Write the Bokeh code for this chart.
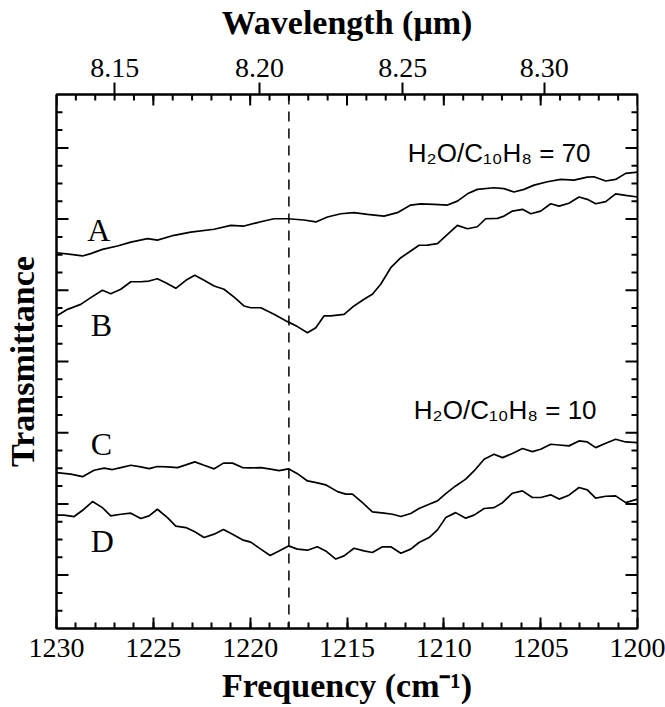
import math
from bokeh.plotting import figure
from bokeh.models import Range1d, LinearAxis, FixedTicker, CustomJSTickFormatter, Span
from bokeh.core.properties import value
from bokeh.embed import file_html
from bokeh.resources import INLINE

# ---------------- data (frequency in cm^-1, transmittance in arbitrary units) -------------
freq_A = [1230.0, 1229.26, 1228.66, 1228.23, 1227.63, 1226.85, 1226.16, 1225.30, 1224.79, 1223.93,
          1223.07, 1221.86, 1221.00, 1220.32, 1219.45, 1218.77, 1218.07, 1217.22, 1216.61, 1216.01,
          1215.32, 1214.64, 1213.94, 1213.09, 1212.40, 1211.71, 1211.19, 1210.51, 1209.81, 1209.30,
          1208.78, 1208.27, 1207.41, 1206.89, 1206.38, 1205.86, 1205.34, 1204.65, 1203.97, 1203.28,
          1202.59, 1202.25, 1201.64, 1201.13, 1200.61, 1200.0]
trans_A = [21.11, 21.02, 20.93, 21.06, 21.30, 21.49, 21.71, 21.90, 21.82, 22.09,
           22.27, 22.43, 22.65, 22.61, 22.85, 23.02, 23.02, 22.95, 22.84, 23.12,
           23.30, 23.36, 23.27, 23.17, 23.36, 23.79, 23.86, 23.83, 23.79, 24.01,
           24.42, 24.67, 24.76, 24.71, 24.52, 24.67, 24.91, 25.10, 25.23, 25.19,
           25.36, 25.38, 25.14, 25.23, 25.57, 25.64]

freq_B = [1230.0, 1229.43, 1228.75, 1228.23, 1227.63, 1227.20, 1226.68, 1226.16, 1225.65, 1225.22,
          1224.79, 1224.36, 1223.84, 1223.32, 1222.86, 1222.38, 1221.86, 1221.35, 1220.83, 1220.32,
          1219.97, 1219.45, 1218.77, 1218.07, 1217.56, 1217.04, 1216.61, 1216.19, 1215.84, 1215.15,
          1214.64, 1214.12, 1213.69, 1213.26, 1212.74, 1212.22, 1211.71, 1211.28, 1210.85, 1210.33,
          1209.81, 1209.30, 1208.78, 1208.27, 1207.84, 1207.23, 1206.89, 1206.46, 1205.94, 1205.51,
          1205.00, 1204.48, 1204.05, 1203.54, 1203.02, 1202.59, 1202.16, 1201.64, 1201.13, 1200.61,
          1200.0]
trans_B = [17.56, 17.93, 18.21, 18.59, 19.00, 18.81, 19.06, 19.48, 19.48, 19.52,
           19.65, 19.43, 19.11, 19.56, 19.84, 19.56, 19.24, 19.06, 18.62, 18.12,
           18.02, 18.02, 17.65, 17.24, 16.96, 16.62, 16.90, 17.56, 17.56, 17.65,
           18.12, 18.50, 18.78, 19.34, 20.27, 20.83, 21.21, 21.53, 21.54, 21.62,
           22.14, 22.65, 22.46, 22.57, 23.02, 23.04, 23.17, 23.45, 23.55, 23.30,
           23.45, 23.86, 23.73, 23.89, 24.24, 24.11, 23.86, 23.98, 24.42, 24.33,
           24.24]

freq_C = [1230.0, 1229.26, 1228.66, 1228.06, 1227.54, 1227.11, 1226.68, 1226.16, 1225.65, 1225.22,
          1224.79, 1224.27, 1223.75, 1223.32, 1222.86, 1222.38, 1221.86, 1221.38, 1220.91, 1220.40,
          1219.97, 1219.45, 1218.94, 1218.51, 1218.02, 1217.56, 1217.04, 1216.53, 1216.10, 1215.49,
          1215.06, 1214.72, 1214.20, 1213.69, 1213.09, 1212.65, 1212.22, 1211.71, 1211.28, 1210.76,
          1210.33, 1209.90, 1209.39, 1208.87, 1208.44, 1207.92, 1207.41, 1206.97, 1206.46, 1205.94,
          1205.43, 1205.00, 1204.48, 1204.05, 1203.54, 1203.02, 1202.59, 1202.16, 1201.64, 1201.13,
          1200.61, 1200.0]
trans_C = [8.76, 8.67, 8.53, 8.89, 9.01, 8.93, 9.04, 9.17, 9.08, 8.98,
           9.10, 9.08, 9.04, 9.19, 9.36, 9.17, 8.97, 9.29, 9.29, 9.04,
           9.02, 9.04, 8.95, 8.87, 8.97, 8.70, 8.29, 8.18, 8.07, 7.69,
           7.55, 7.55, 7.07, 6.55, 6.48, 6.42, 6.29, 6.46, 6.74, 6.98,
           7.17, 7.58, 8.01, 8.39, 8.85, 9.51, 9.79, 9.60, 9.83, 10.11,
           9.94, 10.07, 10.35, 10.31, 10.26, 10.54, 10.48, 10.16, 10.41, 10.63,
           10.48, 10.44]

freq_D = [1230.0, 1229.61, 1229.09, 1228.58, 1228.14, 1227.63, 1227.20, 1226.68, 1226.16, 1225.65,
          1225.22, 1224.79, 1224.27, 1223.84, 1223.32, 1222.86, 1222.38, 1221.86, 1221.38, 1220.91,
          1220.40, 1219.97, 1219.45, 1218.97, 1218.51, 1218.02, 1217.56, 1217.04, 1216.53, 1216.10,
          1215.58, 1215.15, 1214.64, 1214.12, 1213.69, 1213.17, 1212.74, 1212.22, 1211.71, 1211.28,
          1210.76, 1210.33, 1209.90, 1209.39, 1208.87, 1208.44, 1207.92, 1207.41, 1206.97, 1206.46,
          1205.94, 1205.43, 1205.00, 1204.48, 1204.05, 1203.54, 1203.02, 1202.59, 1202.16, 1201.64,
          1201.13, 1200.61, 1200.0]
trans_D = [6.37, 6.37, 6.29, 6.70, 7.13, 6.79, 6.33, 6.42, 6.48, 6.18,
           6.33, 6.70, 6.23, 5.75, 5.67, 5.43, 5.11, 5.30, 5.56, 5.30,
           4.98, 4.85, 4.46, 4.10, 4.36, 4.64, 4.46, 4.40, 4.59, 4.36,
           3.90, 4.08, 4.51, 4.36, 4.27, 4.59, 4.59, 4.23, 4.46, 4.83,
           5.11, 5.54, 6.23, 6.51, 6.20, 6.37, 6.74, 6.79, 7.07, 7.60,
           7.73, 7.36, 7.36, 7.51, 7.27, 7.49, 7.92, 7.79, 7.32, 7.43,
           7.45, 7.07, 7.27]

curve_names = ["A", "B", "C", "D"]
curve_label_freq = [1227.82, 1227.68, 1227.68, 1227.63]
curve_label_trans = [22.39, 17.05, 10.35, 4.92]

ratio_texts = ["H\u2082O/C\u2081\u2080H\u2088 = 70", "H\u2082O/C\u2081\u2080H\u2088 = 10"]
ratio_freq = [1211.86, 1211.55]
ratio_trans = [26.7, 12.3]

freq_start, freq_end = 1230, 1200
trans_start, trans_end = 0, 30
freq_major = [1230, 1225, 1220, 1215, 1210, 1205, 1200]
freq_minor = list(range(1201, 1230))
wavelength_ticks = [8.15, 8.20, 8.25, 8.30]
trans_major = [3, 7, 11, 15, 19, 23, 27]
trans_minor = [t for t in range(1, 30) if t not in trans_major]
marker_freq = 1218

# ---------------- figure ----------------
SERIF = "Liberation Serif"
SANS = "Liberation Sans"

p = figure(width=665, height=707, output_backend="svg", toolbar_location=None,
           x_range=Range1d(freq_start, freq_end), y_range=Range1d(trans_start, trans_end),
           x_axis_location=None, y_axis_location=None,
           min_border_left=56, min_border_right=28, min_border_top=93, min_border_bottom=79)
p.xgrid.visible = False
p.ygrid.visible = False
p.outline_line_color = "black"
p.outline_line_width = 2
p.background_fill_color = "white"
p.border_fill_color = "white"


def style_axis(ax):
    ax.axis_line_width = 2
    ax.axis_line_color = "black"
    ax.major_tick_line_width = 2
    ax.minor_tick_line_width = 2
    ax.major_tick_line_color = "black"
    ax.minor_tick_line_color = "black"
    ax.minor_tick_out = 0


# bottom frequency axis
bottom = LinearAxis(ticker=FixedTicker(ticks=freq_major, minor_ticks=freq_minor))
style_axis(bottom)
bottom.major_tick_in = 11
bottom.major_tick_out = 0
bottom.minor_tick_in = 6
bottom.major_label_text_font = SERIF
bottom.major_label_text_font_size = "28px"
bottom.major_label_text_color = "black"
bottom.major_label_standoff = 10
bottom.axis_label = "Frequency (cm\u207b\u00b9)"
bottom.axis_label_text_font = SERIF
bottom.axis_label_text_font_style = "bold"
bottom.axis_label_text_font_size = "34px"
bottom.axis_label_text_color = "black"
bottom.axis_label_standoff = 7
p.add_layout(bottom, "below")

# top wavelength axis (ticks point outward)
top_wl = LinearAxis(ticker=FixedTicker(ticks=[1e4 / w for w in wavelength_ticks], minor_ticks=[]),
                    formatter=CustomJSTickFormatter(code="return (1e4/tick).toFixed(2)"))
style_axis(top_wl)
top_wl.major_tick_in = 0
top_wl.major_tick_out = 12
top_wl.minor_tick_in = 0
top_wl.major_label_text_font = SERIF
top_wl.major_label_text_font_size = "28px"
top_wl.major_label_text_color = "black"
top_wl.major_label_standoff = 6
top_wl.axis_label = "Wavelength (\u03bcm)"
top_wl.axis_label_text_font = SERIF
top_wl.axis_label_text_font_style = "bold"
top_wl.axis_label_text_font_size = "34px"
top_wl.axis_label_text_color = "black"
top_wl.axis_label_standoff = 15
p.add_layout(top_wl, "above")

# left axis: only the title (ticks drawn below as inward rays)
left = LinearAxis(ticker=FixedTicker(ticks=[], minor_ticks=[]))
style_axis(left)
left.major_tick_in = 0
left.major_tick_out = 0
left.minor_tick_in = 0
left.axis_label = "Transmittance"
left.axis_label_text_font = SERIF
left.axis_label_text_font_style = "bold"
left.axis_label_text_font_size = "34px"
left.axis_label_text_color = "black"
left.axis_label_standoff = 16
p.add_layout(left, "left")

# inward mirror ticks on the top, left and right frame edges
tick_kw = dict(line_color="black", line_width=2, length_units="screen")
p.ray(x=freq_minor, y=[trans_end] * len(freq_minor), length=6, angle=-math.pi / 2, **tick_kw)
p.ray(x=freq_major, y=[trans_end] * len(freq_major), length=11, angle=-math.pi / 2, **tick_kw)
p.ray(x=[freq_start] * len(trans_minor), y=trans_minor, length=6, angle=0, **tick_kw)
p.ray(x=[freq_start] * len(trans_major), y=trans_major, length=12, angle=0, **tick_kw)
p.ray(x=[freq_end] * len(trans_minor), y=trans_minor, length=6, angle=math.pi, **tick_kw)
p.ray(x=[freq_end] * len(trans_major), y=trans_major, length=12, angle=math.pi, **tick_kw)

# dashed marker line
p.add_layout(Span(location=marker_freq, dimension="height", line_color="black",
                  line_width=1.5, line_dash="10 7"))

# curves
for fx, ty in [(freq_A, trans_A), (freq_B, trans_B), (freq_C, trans_C), (freq_D, trans_D)]:
    p.line(fx, ty, line_color="black", line_width=1.7)

# curve letters
p.text(x=curve_label_freq, y=curve_label_trans, text=curve_names,
       text_font=value(SERIF), text_font_size="32px", text_color="black",
       text_align="center", text_baseline="middle")

# ratio annotations
p.text(x=ratio_freq, y=ratio_trans, text=ratio_texts,
       text_font=value(SANS), text_font_size="26px", text_color="black",
       text_align="left", text_baseline="alphabetic")

open("out.html", "w").write(file_html(p, INLINE))
